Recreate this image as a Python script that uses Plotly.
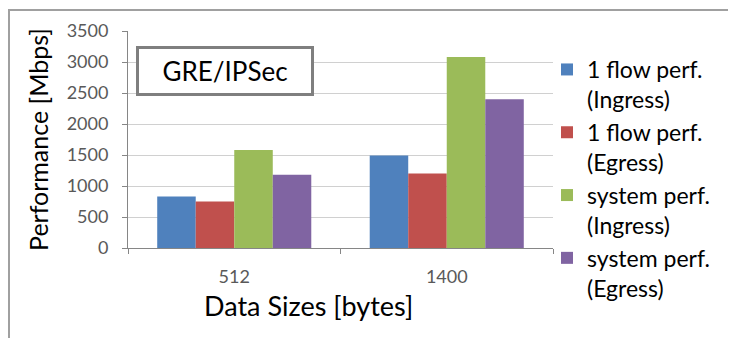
import plotly.graph_objects as go

categories = ["512", "1400"]
series_names = [
    "1 flow perf.<br>(Ingress)",
    "1 flow perf.<br>(Egress)",
    "system perf.<br>(Ingress)",
    "system perf.<br>(Egress)",
]
flow_ingress = [830, 1490]
flow_egress = [750, 1200]
system_ingress = [1580, 3080]
system_egress = [1180, 2400]
colors = ["#4F81BD", "#C0504D", "#9BBB59", "#8064A2"]
y_ticks = [0, 500, 1000, 1500, 2000, 2500, 3000, 3500]

FONT = "Lato"
series = [flow_ingress, flow_egress, system_ingress, system_egress]

fig = go.Figure()
for i, (name, vals, col) in enumerate(zip(series_names, series, colors)):
    fig.add_trace(go.Bar(
        x=categories, y=vals, name=name, marker_color=col,
        marker_line_width=0, legendgroup=f"g{i}",
    ))

# the page places the figure 8px from the window's top-left corner
OFF = 8
W, H = 736 - OFF, 338 - OFF
# plot area in window pixels: x 128..553, y 31..248
L, T = 128 - OFF, 31 - OFF
R, B = W - (553 - OFF), H - (248 - OFF)
pw, ph = W - L - R, H - T - B

def px(x):  # window pixel x -> paper
    return (x - OFF - L) / pw

def py(y):  # window pixel y -> paper
    return (H - B - (y - OFF)) / ph

fig.update_layout(
    width=W, height=H,
    margin=dict(l=L, r=R, t=T, b=B, pad=0, autoexpand=False),
    paper_bgcolor="white", plot_bgcolor="white",
    barmode="group", bargap=0.275, bargroupgap=0,
    font=dict(family=FONT, color="black"),
    legend=dict(
        x=px(547), y=py(48), xanchor="left", yanchor="top",
        font=dict(size=23, family=FONT, color="black"),
        valign="top", tracegroupgap=0, maxheight=400,
        bgcolor="rgba(0,0,0,0)",
    ),
    showlegend=True,
    xaxis=dict(
        type="category",
        showline=True, linecolor="#868686", linewidth=1,
        ticks="outside", tickson="boundaries", ticklen=5, tickcolor="#868686",
        ticklabelstandoff=12,
        tickfont=dict(size=18, color="#595959", family=FONT),
        showgrid=False,
    ),
    yaxis=dict(
        range=[0, 3500], tickvals=y_ticks,
        showline=True, linecolor="#868686", linewidth=1,
        ticks="outside", ticklen=5, tickcolor="#868686",
        ticklabelstandoff=10,
        tickfont=dict(size=18, color="#595959", family=FONT),
        showgrid=True, gridcolor="#d0d0d0", gridwidth=1,
        zeroline=False,
        title=dict(text="Performance [Mbps]", font=dict(size=25, color="black", family=FONT), standoff=10),
    ),
)

# outer chart border
fig.add_shape(type="rect", xref="paper", yref="paper",
              x0=px(9), x1=px(760), y0=py(360), y1=py(10),
              line=dict(color="#a0a0a0", width=2), fillcolor="rgba(0,0,0,0)", layer="below")

# x-axis title (centred on the chart, not the plot area)
fig.add_annotation(
    text="Data Sizes [bytes]", xref="paper", yref="paper", x=px(308), y=py(305),
    xanchor="center", yanchor="middle", showarrow=False,
    font=dict(size=27, color="black", family=FONT),
)

# label box
fig.add_annotation(
    text="GRE/IPSec", xref="paper", yref="paper", x=px(225), y=py(71),
    xanchor="center", yanchor="middle", showarrow=False,
    width=172, height=44, borderwidth=3, borderpad=0,
    bordercolor="#7f7f7f", bgcolor="white",
    font=dict(size=26, color="black", family=FONT),
)

fig.write_html("out.html")
